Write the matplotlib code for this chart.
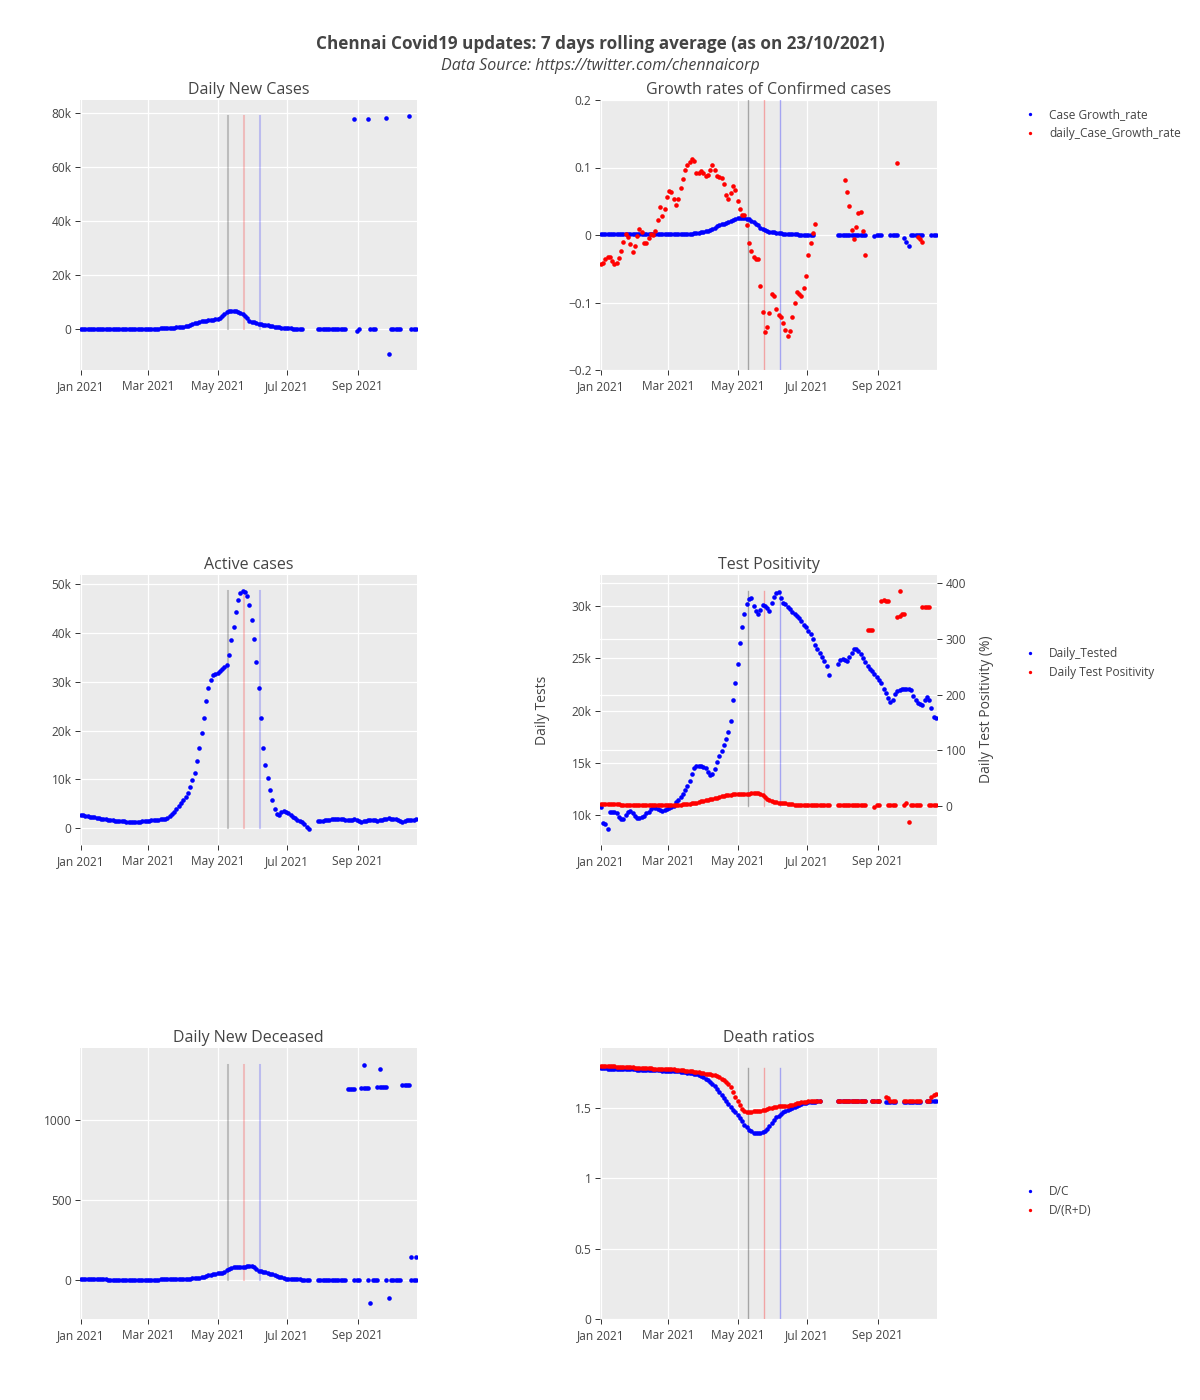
import matplotlib
matplotlib.use('Agg')
import matplotlib.pyplot as plt
import matplotlib.dates as mdates
import matplotlib.transforms as mtransforms
from matplotlib.lines import Line2D
from matplotlib.ticker import FuncFormatter, FixedLocator
import numpy as np
import pandas as pd

plt.rcParams['font.family'] = ['Open Sans', 'DejaVu Sans']

nan = float('nan')

# one reading every second day, 1 Jan 2021 .. 22 Oct 2021 (148 readings)
dates = pd.date_range('2021-01-01', periods=148, freq='2D')

new_cases = [
    240, 230, 220, 210, 200, 190, 180, 170, 160, 155,
    150, 150, 150, 148, 145, 145, 145, 145, 148, 150,
    150, 155, 158, 160, 165, 170, 175, 180, 190, 200,
    200, 210, 220, 240, 260, 290, 320, 360, 400, 450,
    500, 570, 650, 740, 850, 970, 1100, 1300, 1550, 1850,
    2150, 2450, 2700, 2900, 3050, 3150, 3250, 3350, 3500, 3650,
    3850, 4300, 4900, 5500, 6200, 6600, 6900, 6900, 6600, 6200,
    5900, 5500, 4900, 4000, 3200, 2800, 2500, 2300, 2100, 1900,
    1750, 1600, 1400, 1250, 1100, 950, 800, 680, 580, 480,
    400, 330, 280, 250, 230, 220, 210, 200, nan, nan,
    nan, nan, nan, nan, 180, 180, 175, 175, 170, 170,
    170, 165, 165, 160, 160, 160, 155, nan, nan, nan,
    77700, -600, 150, nan, nan, nan, 78000, 150, 150, 150,
    nan, nan, nan, nan, 78300, -9300, 150, 150, 150, 150,
    150, nan, nan, nan, 79000, 150, 150, 150,
]

case_growth = [
    0.001, 0.001, 0.001, 0.001, 0.001, 0.001, 0.001, 0.001, 0.001, 0.001,
    0.001, 0.001, 0.001, 0.001, 0.001, 0.001, 0.001, 0.001, 0.001, 0.001,
    0.001, 0.001, 0.001, 0.001, 0.001, 0.001, 0.001, 0.001, 0.001, 0.001,
    0.0012, 0.0012, 0.0013, 0.0013, 0.0014, 0.0014, 0.0015, 0.0016, 0.0017, 0.0018,
    0.002, 0.0025, 0.003, 0.0035, 0.004, 0.005, 0.0058, 0.0065, 0.0074, 0.0092,
    0.011, 0.013, 0.015, 0.016, 0.017, 0.018, 0.0195, 0.021, 0.0225, 0.024,
    0.025, 0.025, 0.025, 0.025, 0.024, 0.023, 0.021, 0.019, 0.017, 0.015,
    0.010, 0.0085, 0.0075, 0.0065, 0.005, 0.0045, 0.004, 0.0035, 0.003, 0.0025,
    0.002, 0.0018, 0.0016, 0.0014, 0.0012, 0.001, 0.0008, 0.0006, 0.0005, 0.0004,
    0.0003, 0.0002, 0.0001, 0.0001, nan, nan, nan, nan, nan, nan,
    nan, nan, nan, nan, 0, 0, 0, 0, 0, 0,
    0, 0, 0, 0, 0, 0, 0, nan, nan, nan,
    -0.002, 0, 0, 0, nan, nan, nan, 0, 0, 0,
    0, nan, nan, -0.005, -0.011, -0.017, 0, 0, 0, 0,
    0, 0, nan, nan, nan, 0, 0, 0,
]

daily_case_growth = [
    -0.043, -0.042, -0.035, -0.033, -0.032, -0.039, -0.043, -0.042, -0.034, -0.024,
    -0.010, 0.001, -0.003, -0.014, -0.025, -0.017, -0.001, 0.009, 0.004, -0.012,
    -0.012, -0.004, 0.001, 0.000, 0.006, 0.022, 0.042, 0.028, 0.039, 0.057,
    0.065, 0.063, 0.053, 0.045, 0.054, 0.070, 0.083, 0.096, 0.103, 0.108,
    0.113, 0.109, 0.092, 0.092, 0.095, 0.092, 0.087, 0.089, 0.096, 0.104,
    0.097, 0.088, 0.086, 0.084, 0.075, 0.060, 0.054, 0.062, 0.073, 0.067,
    0.050, 0.038, 0.030, 0.029, 0.015, -0.012, -0.023, -0.033, -0.035, -0.036,
    -0.075, -0.114, -0.143, -0.136, -0.115, -0.088, -0.090, -0.110, -0.119, -0.122,
    -0.130, -0.141, -0.150, -0.142, -0.122, -0.100, -0.084, -0.088, -0.091, -0.079,
    -0.060, -0.030, -0.012, 0.003, 0.016, nan, nan, nan, nan, nan,
    nan, nan, nan, nan, nan, nan, nan, 0.081, 0.063, 0.043,
    0.007, -0.006, 0.012, 0.033, 0.034, 0.006, -0.029, nan, nan, nan,
    nan, nan, nan, nan, nan, nan, nan, nan, nan, nan,
    0.107, nan, nan, nan, nan, nan, nan, nan, nan, -0.003,
    -0.006, -0.011, nan, nan, nan, nan, nan, nan,
]

active = [
    2730, 2640, 2560, 2480, 2400, 2320, 2230, 2150, 2060, 1990,
    1910, 1830, 1750, 1680, 1610, 1560, 1520, 1480, 1440, 1410,
    1380, 1370, 1360, 1360, 1360, 1370, 1380, 1410, 1450, 1500,
    1560, 1620, 1680, 1740, 1800, 1850, 1900, 1980, 2150, 2450,
    2900, 3400, 3950, 4550, 5150, 5800, 6500, 7300, 8400, 9800,
    11400, 13700, 16400, 19600, 22500, 26000, 28600, 30400, 31300, 31500,
    31700, 32100, 32600, 33000, 33400, 35500, 38500, 41200, 44200, 46600,
    48200, 48600, 48400, 47600, 45700, 42500, 38800, 34000, 28800, 22500,
    16500, 13000, 10200, 7800, 5800, 4000, 2900, 2700, 3300, 3500,
    3400, 3100, 2800, 2400, 2050, 1800, 1600, 1300, 900, 300,
    -100, nan, nan, nan, 1450, 1480, 1550, 1620, 1700, 1760,
    1830, 1880, 1930, 1980, 2000, 2000, 1750, 1700, 1650, 1680,
    1850, 1800, 1500, 1400, 1420, 1450, 1650, 1750, 1720, 1680,
    1550, 1650, 1780, 1900, 2000, 2020, 1980, 1900, 1850, 1750,
    1500, 1400, 1420, 1650, 1700, 1750, 1800, 1850,
]

daily_tested = [
    10800, 9200, 9100, 8700, 10250, 10250, 10250, 10150, 9850, 9650,
    9650, 10000, 10300, 10400, 10200, 9950, 9750, 9700, 9850, 9900,
    10150, 10300, 10600, 10800, 10700, 10600, 10500, 10400, 10500, 10600,
    10700, 10750, 10900, 11200, 11450, 11750, 12050, 12400, 12800, 13300,
    13900, 14500, 14650, 14650, 14650, 14600, 14500, 14100, 13800, 13900,
    14400, 15100, 15600, 16100, 16700, 17300, 17900, 19000, 21000, 22600,
    24500, 26500, 28000, 29200, 30200, 30700, 30800, 30000, 29500, 29200,
    29600, 30100, 30000, 29800, 29500, 30300, 30900, 31200, 31300, 30800,
    30300, 30200, 29900, 29700, 29400, 29200, 29000, 28900, 28600, 28200,
    28000, 27600, 27300, 26800, 26300, 25900, 25500, 25100, 24700, 24300,
    23400, nan, nan, nan, 24500, 24800, 24900, 24800, 24700, 25100,
    25500, 25900, 25900, 25700, 25400, 25000, 24600, 24300, 24000, 23800,
    23500, 23200, 22900, 22600, 22100, 21700, 21200, 20800, 21000, 21600,
    21900, 22000, 22100, 22100, 22100, 22100, 22000, 21400, 21000, 20700,
    20600, 20500, 21000, 21300, 21000, 20200, 19400, 19300,
]

test_positivity = [
    3.0, 2.9, 2.8, 2.7, 2.6, 2.5, 2.4, 2.3, 2.2, 2.1,
    2.0, 1.9, 1.8, 1.7, 1.6, 1.5, 1.4, 1.4, 1.3, 1.3,
    1.2, 1.2, 1.2, 1.2, 1.2, 1.2, 1.2, 1.2, 1.2, 1.2,
    1.3, 1.4, 1.5, 1.7, 1.9, 2.1, 2.4, 2.7, 3.1, 3.6,
    4.2, 4.9, 5.7, 6.6, 7.6, 8.6, 9.6, 10.6, 11.5, 12.5,
    13.5, 14.6, 15.7, 16.8, 17.8, 18.6, 19.3, 19.9, 20.3, 20.5,
    20.6, 20.7, 20.8, 21.0, 21.2, 21.6, 22.2, 22.7, 22.8, 22.5,
    21.0, 18.5, 15.0, 12.0, 9.5, 8.0, 7.0, 6.3, 5.7, 5.1,
    4.5, 4.0, 3.5, 3.0, 2.5, 2.1, 1.8, 1.6, 1.5, 1.4,
    1.3, 1.3, 1.2, 1.2, 1.1, 1.1, 1.0, 1.0, 0.9, 0.9,
    0.8, nan, nan, nan, 1.0, 1.0, 1.0, 1.0, 1.0, 1.0,
    1.0, 1.0, 1.0, 1.0, 1.0, 1.0, 1.0, nan, nan, nan,
    -1.5, 0.5, 1.0, nan, nan, nan, 1.0, 1.0, 1.0, 1.0,
    nan, 387, nan, 1.0, 5.0, -30, 1.0, 1.0, 1.0, 1.0,
    1.0, nan, nan, nan, 1.0, 1.0, 1.0, 1.0,
]

# second records that share a date with the ones above
test_positivity_dup = ([nan] * 117 + [316, 316, 316] + [nan] * 3
                       + [369, 370, 369, 368] + [nan] * 3
                       + [340, 342, 344, 344] + [nan] * 7
                       + [358, 358, 358, 358] + [nan] * 3)

new_deceased = [
    4, 4, 4, 4, 4, 3, 3, 3, 3, 3,
    3, 3, 2, 2, 2, 2, 2, 2, 2, 2,
    2, 2, 2, 2, 2, 2, 2, 2, 2, 2,
    2, 2, 2, 2, 2, 3, 3, 3, 3, 4,
    4, 4, 5, 5, 6, 6, 7, 8, 9, 10,
    11, 12, 14, 17, 21, 25, 29, 33, 36, 39,
    41, 42, 45, 52, 60, 68, 75, 82, 80, 78,
    78, 80, 83, 85, 87, 90, 80, 68, 58, 53,
    50, 47, 44, 40, 35, 30, 25, 20, 16, 12,
    9, 8, 7, 6, 5, 4, 3, 2, 1, 0,
    -3, nan, nan, nan, 1, 1, 1, 1, 1, 1,
    1, 1, 1, 1, 1, 1, 1, nan, nan, nan,
    1, 1, 1, nan, 1343, nan, 1, -146, 1, 1,
    1, 1321, nan, nan, 1, -115, 1, 1, 1, 1,
    1, nan, nan, nan, nan, 1, 1, 1,
]

new_deceased_dup = ([nan] * 117 + [1196, 1196, 1196, 1196] + [nan] * 2
                    + [1202, 1202, 1202, 1202] + [nan] * 3
                    + [1208, 1208, 1208, 1208, 1208] + [nan] * 6
                    + [1217, 1217, 1217, 1217] + [142, nan, 142])

d_over_c = [
    1.779, 1.778, 1.778, 1.777, 1.777, 1.776, 1.776, 1.775, 1.775, 1.774,
    1.774, 1.773, 1.773, 1.772, 1.772, 1.771, 1.770, 1.770, 1.769, 1.768,
    1.768, 1.767, 1.766, 1.766, 1.765, 1.764, 1.764, 1.763, 1.762, 1.762,
    1.761, 1.760, 1.759, 1.758, 1.757, 1.755, 1.753, 1.751, 1.749, 1.746,
    1.743, 1.739, 1.735, 1.730, 1.724, 1.716, 1.706, 1.695, 1.683, 1.668,
    1.651, 1.633, 1.613, 1.592, 1.571, 1.549, 1.527, 1.506, 1.486, 1.467,
    1.448, 1.425, 1.402, 1.380, 1.360, 1.343, 1.331, 1.322, 1.318, 1.317,
    1.320, 1.326, 1.336, 1.350, 1.370, 1.392, 1.413, 1.430, 1.444, 1.456,
    1.466, 1.474, 1.483, 1.491, 1.499, 1.507, 1.514, 1.521, 1.526, 1.531,
    1.535, 1.538, 1.540, 1.542, 1.543, 1.544, 1.545, nan, nan, nan,
    nan, nan, nan, nan, 1.547, 1.547, 1.547, 1.547, 1.547, 1.547,
    1.547, 1.547, 1.547, 1.547, 1.547, 1.547, 1.547, nan, nan, 1.546,
    1.546, 1.546, 1.546, nan, nan, 1.543, 1.543, 1.543, 1.543, 1.543,
    nan, nan, nan, 1.542, 1.542, 1.542, 1.542, 1.542, 1.542, 1.542,
    1.542, nan, nan, 1.546, 1.546, 1.546, 1.546, 1.546,
]

d_over_rd = [
    1.798, 1.797, 1.796, 1.795, 1.794, 1.793, 1.792, 1.791, 1.790, 1.789,
    1.788, 1.787, 1.786, 1.785, 1.785, 1.784, 1.783, 1.782, 1.781, 1.780,
    1.780, 1.779, 1.778, 1.777, 1.777, 1.776, 1.775, 1.775, 1.774, 1.774,
    1.773, 1.772, 1.771, 1.770, 1.769, 1.767, 1.765, 1.763, 1.761, 1.759,
    1.757, 1.755, 1.753, 1.751, 1.749, 1.746, 1.742, 1.738, 1.735, 1.733,
    1.730, 1.724, 1.716, 1.706, 1.697, 1.685, 1.668, 1.643, 1.612, 1.578,
    1.545, 1.515, 1.492, 1.475, 1.466, 1.466, 1.470, 1.474, 1.477, 1.478,
    1.479, 1.481, 1.486, 1.490, 1.495, 1.500, 1.504, 1.507, 1.508, 1.508,
    1.509, 1.511, 1.514, 1.518, 1.522, 1.526, 1.530, 1.534, 1.537, 1.540,
    1.542, 1.544, 1.545, 1.546, 1.547, 1.547, 1.548, nan, nan, nan,
    nan, nan, nan, nan, 1.548, 1.548, 1.548, 1.548, 1.548, 1.548,
    1.548, 1.548, 1.548, 1.548, 1.548, 1.548, 1.548, nan, nan, 1.547,
    1.547, 1.547, 1.547, nan, nan, 1.574, 1.568, 1.545, 1.544, 1.544,
    nan, nan, nan, 1.544, 1.544, 1.544, 1.544, 1.544, 1.544, 1.544,
    1.544, nan, nan, 1.545, 1.548, 1.574, 1.590, 1.597,
]

# lockdown milestones drawn as vertical lines
events = ['2021-05-10', '2021-05-24', '2021-06-07']
event_colors = ['black', 'red', 'blue']

for name, arr in [('new_cases', new_cases), ('case_growth', case_growth),
                  ('daily_case_growth', daily_case_growth), ('active', active),
                  ('daily_tested', daily_tested), ('test_positivity', test_positivity),
                  ('test_positivity_dup', test_positivity_dup), ('new_deceased', new_deceased),
                  ('new_deceased_dup', new_deceased_dup), ('d_over_c', d_over_c),
                  ('d_over_rd', d_over_rd)]:
    if len(arr) != len(dates):
        raise ValueError(f'{name}: {len(arr)}')

W, H = 1200, 1400
TXT = '#444444'
fig = plt.figure(figsize=(W / 100, H / 100), dpi=100)
fig.patch.set_facecolor('white')


def box(x0, y0, x1, y1):
    return [x0 / W, 1 - y1 / H, (x1 - x0) / W, (y1 - y0) / H]


def kfmt(v, pos):
    return '0' if v == 0 else f'{v / 1000:g}k'


def signed(v, pos):
    s = '0' if abs(v) < 1e-9 else f'{v:g}'
    return s.replace('-', '\u2212')


def style(ax, title):
    ax.set_facecolor('#ebebeb')
    for s in ax.spines.values():
        s.set_visible(False)
    ax.grid(True, color='white', lw=0.9)
    ax.set_axisbelow(True)
    ax.tick_params(direction='out', length=3.6, width=0.7, color='#333333',
                   labelcolor=TXT, labelsize=8.6, pad=2.5)
    ax.tick_params(axis='x', pad=3.8)
    ax.xaxis.set_major_locator(mdates.MonthLocator(bymonth=[1, 3, 5, 7, 9]))
    ax.xaxis.set_major_formatter(mdates.DateFormatter('%b %Y'))
    ax.set_xlim(pd.Timestamp('2020-12-31 10:00'), pd.Timestamp('2021-10-22 20:00'))
    ax.set_title(title, fontsize=11.5, color=TXT, pad=4)


def dots(ax, values, color, **kw):
    ax.plot(dates, np.array(values, dtype=float), ls='none', marker='o', ms=3.3,
            mew=0, color=color, zorder=3, **kw)


def event_lines(ax, y0, y1, lw, alpha, transform=None):
    for d, c in zip(events, event_colors):
        x = mdates.date2num(pd.Timestamp(d))
        kw = {} if transform is None else {'transform': transform}
        ax.plot([x, x], [y0, y1], color=c, lw=lw, alpha=alpha, zorder=2, **kw)


L, R = (80, 417), (600, 937)
rows = [(100, 370), (575, 845), (1048, 1319)]

# Daily New Cases
ax = fig.add_axes(box(L[0], rows[0][0], L[1], rows[0][1]))
style(ax, 'Daily New Cases')
event_lines(ax, 0, np.nanmax(new_cases), 1.5, 0.2)
dots(ax, new_cases, 'blue')
ax.set_ylim(-15100, 84900)
ax.yaxis.set_major_locator(FixedLocator([0, 20000, 40000, 60000, 80000]))
ax.yaxis.set_major_formatter(FuncFormatter(kfmt))

# Growth rates
ax = fig.add_axes(box(R[0], rows[0][0], R[1], rows[0][1]))
style(ax, 'Growth rates of Confirmed cases')
event_lines(ax, -0.2, 0.2, 1.0, 0.3)
dots(ax, case_growth, 'blue')
dots(ax, daily_case_growth, 'red')
ax.set_ylim(-0.2, 0.2)
ax.yaxis.set_major_locator(FixedLocator([-0.2, -0.1, 0, 0.1, 0.2]))
ax.yaxis.set_major_formatter(FuncFormatter(signed))

# Active cases
ax = fig.add_axes(box(L[0], rows[1][0], L[1], rows[1][1]))
style(ax, 'Active cases')
event_lines(ax, 0, np.nanmax(active), 1.5, 0.2)
dots(ax, active, 'blue')
ax.set_ylim(-3400, 51800)
ax.yaxis.set_major_locator(FixedLocator([0, 10000, 20000, 30000, 40000, 50000]))
ax.yaxis.set_major_formatter(FuncFormatter(kfmt))

# Test Positivity (twin axes)
ax = fig.add_axes(box(R[0], rows[1][0], R[1], rows[1][1]))
style(ax, 'Test Positivity')
ax2 = ax.twinx()
for s in ax2.spines.values():
    s.set_visible(False)
ax.set_ylim(7130, 32970)
ax2.set_ylim(-70.7, 415)
ax.yaxis.set_major_locator(FixedLocator([10000, 15000, 20000, 25000, 30000]))
ax.yaxis.set_major_formatter(FuncFormatter(kfmt))
pos_ticks = [0, 100, 200, 300, 400]
ax2.yaxis.set_major_locator(FixedLocator(pos_ticks))
ax2.yaxis.set_major_formatter(FuncFormatter(lambda v, p: f'{v:g}'))
ax2.tick_params(direction='out', length=3.6, width=0.7, color='#333333',
                labelcolor=TXT, labelsize=8.6, pad=2.5)
mixed = mtransforms.blended_transform_factory(ax.transAxes, ax2.transData)
for v in pos_ticks:
    ax.plot([0, 1], [v, v], color='white', lw=0.9, transform=mixed, zorder=0.6)
event_lines(ax, 0, np.nanmax(test_positivity),
            1.0, 0.3, transform=mtransforms.blended_transform_factory(ax.transData, ax2.transData))
ax.set_xlim(pd.Timestamp('2020-12-31 10:00'), pd.Timestamp('2021-10-22 20:00'))
dots(ax, daily_tested, 'blue')
dots(ax2, test_positivity, 'red')
dots(ax2, test_positivity_dup, 'red')
fig.text(542 / W, 1 - 710 / H, 'Daily Tests', rotation=90, ha='center', va='center',
         fontsize=10, color=TXT)
fig.text(986 / W, 1 - 709 / H, 'Daily Test Positivity (%)', rotation=90, ha='center',
         va='center', fontsize=10, color=TXT)

# Daily New Deceased
ax = fig.add_axes(box(L[0], rows[2][0], L[1], rows[2][1]))
style(ax, 'Daily New Deceased')
event_lines(ax, 0, np.nanmax(new_deceased), 1.5, 0.2)
dots(ax, new_deceased, 'blue')
dots(ax, new_deceased_dup, 'blue')
ax.set_ylim(-244, 1450)
ax.yaxis.set_major_locator(FixedLocator([0, 500, 1000]))
ax.yaxis.set_major_formatter(FuncFormatter(lambda v, p: f'{v:g}'))

# Death ratios
ax = fig.add_axes(box(R[0], rows[2][0], R[1], rows[2][1]))
style(ax, 'Death ratios')
event_lines(ax, 0, np.nanmax(d_over_c), 1.0, 0.3)
dots(ax, d_over_c, 'blue')
dots(ax, d_over_rd, 'red')
ax.set_ylim(0, 1.923)
ax.yaxis.set_major_locator(FixedLocator([0, 0.5, 1, 1.5]))
ax.yaxis.set_major_formatter(FuncFormatter(lambda v, p: f'{v:g}'))

# legends
legend_sets = [
    (108, ['Case Growth_rate', 'daily_Case_Growth_rate']),
    (647, ['Daily_Tested', 'Daily Test Positivity']),
    (1185, ['D/C', 'D/(R+D)']),
]
for top, labels in legend_sets:
    handles = [Line2D([], [], ls='none', marker='o', ms=2.4, mew=0, color=c)
               for c in ['blue', 'red']]
    fig.legend(handles, labels, loc='upper left', bbox_to_anchor=(1025 / W, 1 - top / H),
               frameon=False, fontsize=8.6, handlelength=0.8, handletextpad=1.2,
               labelspacing=0.5, borderaxespad=0, borderpad=0, labelcolor=TXT)

fig.text(600 / W, 1 - 44 / H, 'Chennai Covid19 updates: 7 days rolling average (as on 23/10/2021)',
         ha='center', va='center', fontsize=12.3, fontweight='bold', color=TXT)
fig.text(600 / W, 1 - 66 / H, 'Data Source: https://twitter.com/chennaicorp',
         ha='center', va='center', fontsize=11.5, style='italic', color=TXT)

fig.savefig('out.png', dpi=100, facecolor='white')
